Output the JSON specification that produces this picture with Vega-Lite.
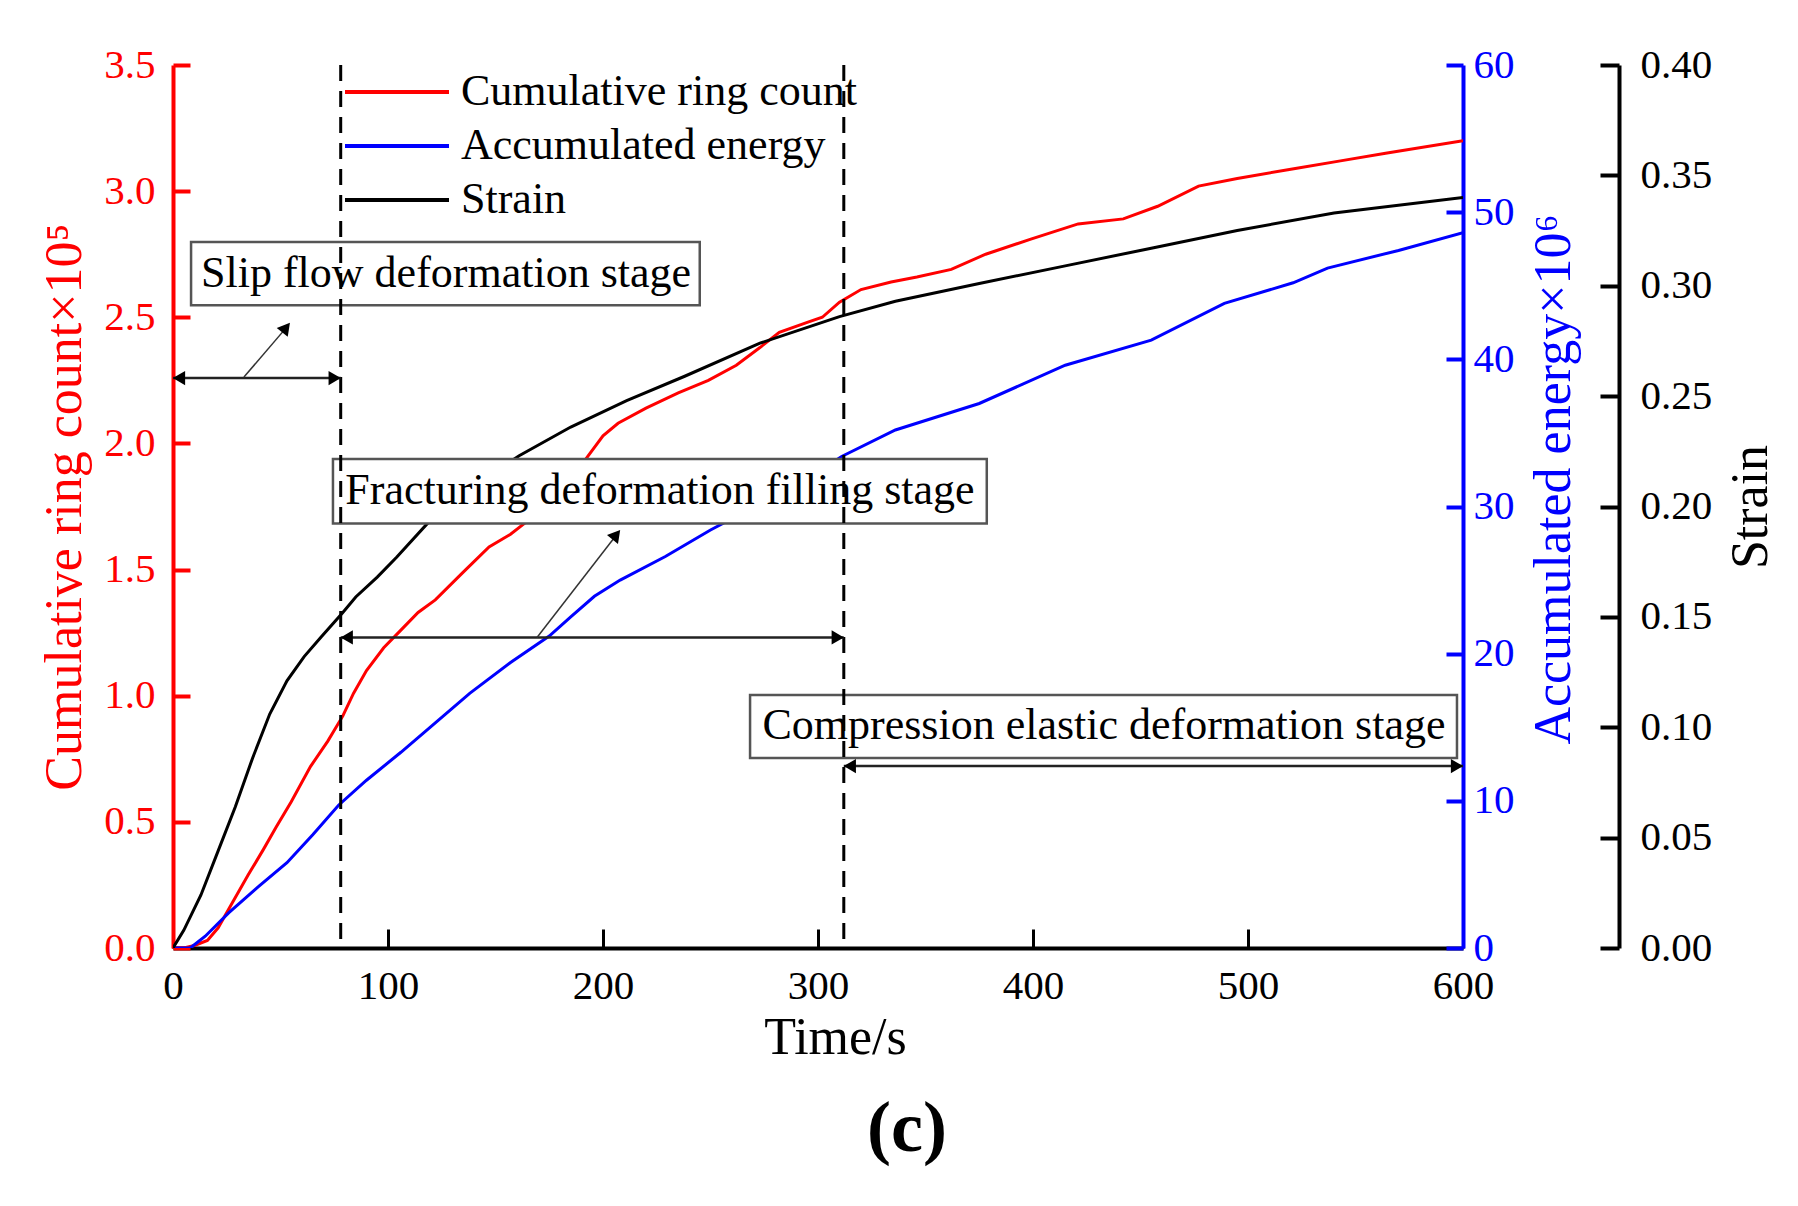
{
  "$schema": "https://vega.github.io/schema/vega-lite/v6.json",
  "width": 1290,
  "height": 883,
  "autosize": {"type": "none"},
  "padding": {"left": 173, "top": 65, "right": 335, "bottom": 258},
  "background": "white",
  "config": {
    "view": {"stroke": null},
    "font": "Liberation Serif",
    "axisX": {"grid": false, "domainColor": "black", "domainWidth": 4, "tickColor": "black", "tickWidth": 3, "tickSize": -19,
      "labelFont": "Liberation Serif", "labelFontSize": 41, "labelColor": "black", "labelPadding": 37, "labelFlush": false,
      "titleFont": "Liberation Serif", "titleFontSize": 52, "titleFontWeight": "normal", "titleColor": "black", "titlePadding": 6}
  },
  "title": {"text": "(c)", "orient": "bottom", "anchor": "middle", "font": "Liberation Serif", "fontSize": 72, "fontWeight": "bold", "color": "black", "offset": 31, "dx": 89},
  "datasets": {
    "curves": [
      {"s": "Cumulative ring count", "t": 0, "v": 0},
      {"s": "Cumulative ring count", "t": 5, "v": 0},
      {"s": "Cumulative ring count", "t": 10, "v": 0.01},
      {"s": "Cumulative ring count", "t": 16, "v": 0.03},
      {"s": "Cumulative ring count", "t": 21, "v": 0.08},
      {"s": "Cumulative ring count", "t": 27, "v": 0.17},
      {"s": "Cumulative ring count", "t": 35, "v": 0.29},
      {"s": "Cumulative ring count", "t": 42, "v": 0.39},
      {"s": "Cumulative ring count", "t": 48, "v": 0.48},
      {"s": "Cumulative ring count", "t": 55, "v": 0.58},
      {"s": "Cumulative ring count", "t": 64, "v": 0.72},
      {"s": "Cumulative ring count", "t": 72, "v": 0.82},
      {"s": "Cumulative ring count", "t": 79, "v": 0.92},
      {"s": "Cumulative ring count", "t": 84, "v": 1.01},
      {"s": "Cumulative ring count", "t": 90, "v": 1.10},
      {"s": "Cumulative ring count", "t": 98, "v": 1.19},
      {"s": "Cumulative ring count", "t": 106, "v": 1.26},
      {"s": "Cumulative ring count", "t": 114, "v": 1.33},
      {"s": "Cumulative ring count", "t": 122, "v": 1.38},
      {"s": "Cumulative ring count", "t": 135, "v": 1.49},
      {"s": "Cumulative ring count", "t": 147, "v": 1.59},
      {"s": "Cumulative ring count", "t": 157, "v": 1.64},
      {"s": "Cumulative ring count", "t": 166, "v": 1.70},
      {"s": "Cumulative ring count", "t": 178, "v": 1.78},
      {"s": "Cumulative ring count", "t": 187, "v": 1.88},
      {"s": "Cumulative ring count", "t": 193, "v": 1.95},
      {"s": "Cumulative ring count", "t": 200, "v": 2.03},
      {"s": "Cumulative ring count", "t": 207, "v": 2.08},
      {"s": "Cumulative ring count", "t": 220, "v": 2.14},
      {"s": "Cumulative ring count", "t": 235, "v": 2.20},
      {"s": "Cumulative ring count", "t": 249, "v": 2.25},
      {"s": "Cumulative ring count", "t": 262, "v": 2.31},
      {"s": "Cumulative ring count", "t": 273, "v": 2.38},
      {"s": "Cumulative ring count", "t": 282, "v": 2.44},
      {"s": "Cumulative ring count", "t": 295, "v": 2.48},
      {"s": "Cumulative ring count", "t": 302, "v": 2.50},
      {"s": "Cumulative ring count", "t": 310, "v": 2.56},
      {"s": "Cumulative ring count", "t": 320, "v": 2.61},
      {"s": "Cumulative ring count", "t": 334, "v": 2.64},
      {"s": "Cumulative ring count", "t": 346, "v": 2.66},
      {"s": "Cumulative ring count", "t": 362, "v": 2.69},
      {"s": "Cumulative ring count", "t": 378, "v": 2.75},
      {"s": "Cumulative ring count", "t": 399, "v": 2.81},
      {"s": "Cumulative ring count", "t": 421, "v": 2.87},
      {"s": "Cumulative ring count", "t": 442, "v": 2.89},
      {"s": "Cumulative ring count", "t": 458, "v": 2.94},
      {"s": "Cumulative ring count", "t": 477, "v": 3.02},
      {"s": "Cumulative ring count", "t": 495, "v": 3.05},
      {"s": "Cumulative ring count", "t": 522, "v": 3.09},
      {"s": "Cumulative ring count", "t": 543, "v": 3.12},
      {"s": "Cumulative ring count", "t": 564, "v": 3.15},
      {"s": "Cumulative ring count", "t": 600, "v": 3.20},
      {"s": "Accumulated energy", "t": 0, "v": 0},
      {"s": "Accumulated energy", "t": 8, "v": 0},
      {"s": "Accumulated energy", "t": 15, "v": 0.8},
      {"s": "Accumulated energy", "t": 26, "v": 2.4},
      {"s": "Accumulated energy", "t": 40, "v": 4.2},
      {"s": "Accumulated energy", "t": 53, "v": 5.8},
      {"s": "Accumulated energy", "t": 65, "v": 7.7},
      {"s": "Accumulated energy", "t": 77, "v": 9.7},
      {"s": "Accumulated energy", "t": 90, "v": 11.4},
      {"s": "Accumulated energy", "t": 106, "v": 13.3},
      {"s": "Accumulated energy", "t": 122, "v": 15.3},
      {"s": "Accumulated energy", "t": 138, "v": 17.3},
      {"s": "Accumulated energy", "t": 157, "v": 19.4},
      {"s": "Accumulated energy", "t": 175, "v": 21.2},
      {"s": "Accumulated energy", "t": 185, "v": 22.5},
      {"s": "Accumulated energy", "t": 196, "v": 23.9},
      {"s": "Accumulated energy", "t": 208, "v": 25.0},
      {"s": "Accumulated energy", "t": 229, "v": 26.6},
      {"s": "Accumulated energy", "t": 250, "v": 28.4},
      {"s": "Accumulated energy", "t": 272, "v": 30.1},
      {"s": "Accumulated energy", "t": 293, "v": 31.7},
      {"s": "Accumulated energy", "t": 311, "v": 33.4},
      {"s": "Accumulated energy", "t": 336, "v": 35.2},
      {"s": "Accumulated energy", "t": 375, "v": 37.0},
      {"s": "Accumulated energy", "t": 415, "v": 39.6},
      {"s": "Accumulated energy", "t": 455, "v": 41.3},
      {"s": "Accumulated energy", "t": 489, "v": 43.8},
      {"s": "Accumulated energy", "t": 521, "v": 45.2},
      {"s": "Accumulated energy", "t": 537, "v": 46.2},
      {"s": "Accumulated energy", "t": 570, "v": 47.4},
      {"s": "Accumulated energy", "t": 600, "v": 48.6},
      {"s": "Strain", "t": 0, "v": 0},
      {"s": "Strain", "t": 5, "v": 0.008},
      {"s": "Strain", "t": 13, "v": 0.024},
      {"s": "Strain", "t": 21, "v": 0.044},
      {"s": "Strain", "t": 29, "v": 0.064},
      {"s": "Strain", "t": 37, "v": 0.086},
      {"s": "Strain", "t": 45, "v": 0.106},
      {"s": "Strain", "t": 53, "v": 0.121},
      {"s": "Strain", "t": 61, "v": 0.132},
      {"s": "Strain", "t": 69, "v": 0.141},
      {"s": "Strain", "t": 79, "v": 0.152},
      {"s": "Strain", "t": 85, "v": 0.159},
      {"s": "Strain", "t": 95, "v": 0.168},
      {"s": "Strain", "t": 104, "v": 0.177},
      {"s": "Strain", "t": 119, "v": 0.193},
      {"s": "Strain", "t": 133, "v": 0.204},
      {"s": "Strain", "t": 147, "v": 0.214},
      {"s": "Strain", "t": 161, "v": 0.223},
      {"s": "Strain", "t": 185, "v": 0.236},
      {"s": "Strain", "t": 211, "v": 0.248},
      {"s": "Strain", "t": 238, "v": 0.259},
      {"s": "Strain", "t": 273, "v": 0.274},
      {"s": "Strain", "t": 310, "v": 0.286},
      {"s": "Strain", "t": 336, "v": 0.293},
      {"s": "Strain", "t": 375, "v": 0.301},
      {"s": "Strain", "t": 415, "v": 0.309},
      {"s": "Strain", "t": 455, "v": 0.317},
      {"s": "Strain", "t": 495, "v": 0.325},
      {"s": "Strain", "t": 540, "v": 0.333},
      {"s": "Strain", "t": 600, "v": 0.340}
    ],
    "stages": [{"t": 78}, {"t": 312}],
    "boxes": [
      {"t1": 8.4, "t2": 245, "v1": 2.548, "v2": 2.798, "label": "Slip flow deformation stage", "tc": 127, "vc": 2.673},
      {"t1": 74.4, "t2": 378.5, "v1": 1.683, "v2": 1.938, "label": "Fracturing deformation filling stage", "tc": 226.5, "vc": 1.81},
      {"t1": 268.4, "t2": 597.2, "v1": 0.753, "v2": 1.003, "label": "Compression elastic deformation stage", "tc": 433, "vc": 0.878}
    ],
    "arrows": [
      {"kind": "h", "t1": 0, "v1": 2.259, "t2": 78, "v2": 2.259},
      {"kind": "h", "t1": 78, "v1": 1.231, "t2": 312, "v2": 1.231},
      {"kind": "h", "t1": 312, "v1": 0.721, "t2": 600, "v2": 0.721},
      {"kind": "d", "t1": 33, "v1": 2.263, "t2": 53, "v2": 2.462},
      {"kind": "d", "t1": 169.3, "v1": 1.231, "t2": 206.5, "v2": 1.64}
    ],
    "heads": [
      {"kind": "L", "t": 2.8, "v": 2.259},
      {"kind": "R", "t": 75.2, "v": 2.259},
      {"kind": "L", "t": 80.8, "v": 1.231},
      {"kind": "R", "t": 309.2, "v": 1.231},
      {"kind": "L", "t": 314.8, "v": 0.721},
      {"kind": "R", "t": 597.2, "v": 0.721},
      {"kind": "D", "t": 52.6, "v": 2.459},
      {"kind": "D", "t": 206.2, "v": 1.638}
    ]
  },
  "resolve": {"scale": {"y": "independent"}},
  "layer": [
    {
      "data": {"name": "curves"},
      "transform": [{"filter": "datum.s === 'Cumulative ring count'"}],
      "mark": {"type": "line", "strokeWidth": 3, "clip": true},
      "encoding": {
        "x": {"field": "t", "type": "quantitative", "scale": {"domain": [0, 600], "nice": false},
          "axis": {"title": "Time/s", "values": [0, 100, 200, 300, 400, 500, 600], "titleX": 662}},
        "y": {"field": "v", "type": "quantitative", "scale": {"domain": [0, 3.5], "nice": false},
          "axis": {"orient": "left", "title": "Cumulative ring count×10⁵", "values": [0, 0.5, 1, 1.5, 2, 2.5, 3, 3.5], "format": ".1f", "grid": false,
            "domainColor": "#ff0000", "domainWidth": 4, "tickColor": "#ff0000", "tickWidth": 4, "tickSize": -17,
            "labelFont": "Liberation Serif", "labelFontSize": 41, "labelColor": "#ff0000", "labelPadding": 35, "labelFlush": false,
            "titleFont": "Liberation Serif", "titleFontSize": 52, "titleFontWeight": "normal", "titleColor": "#ff0000", "titlePadding": 12}},
        "color": {"field": "s", "type": "nominal",
          "scale": {"domain": ["Cumulative ring count", "Accumulated energy", "Strain"], "range": ["#ff0000", "#0000ff", "#000000"]},
          "legend": {"title": null, "orient": "none", "legendX": 170, "legendY": -1, "padding": 0,
            "symbolType": "M-1,0H3", "symbolSize": 2704, "symbolStrokeWidth": 4,
            "labelFont": "Liberation Serif", "labelFontSize": 44, "labelColor": "black", "labelOffset": 62, "rowPadding": 4, "labelLimit": 600}}
      }
    },
    {
      "data": {"name": "curves"},
      "transform": [{"filter": "datum.s === 'Accumulated energy'"}],
      "mark": {"type": "line", "strokeWidth": 3, "clip": true},
      "encoding": {
        "x": {"field": "t", "type": "quantitative", "scale": {"domain": [0, 600], "nice": false}},
        "y": {"field": "v", "type": "quantitative", "scale": {"domain": [0, 60], "nice": false},
          "axis": {"orient": "right", "title": "Accumulated energy×10⁶", "values": [0, 10, 20, 30, 40, 50, 60], "grid": false,
            "domainColor": "#0000ff", "domainWidth": 4, "tickColor": "#0000ff", "tickWidth": 4, "tickSize": -17,
            "labelFont": "Liberation Serif", "labelFontSize": 41, "labelColor": "#0000ff", "labelPadding": 27, "labelFlush": false,
            "titleFont": "Liberation Serif", "titleFontSize": 52, "titleFontWeight": "normal", "titleColor": "#0000ff", "titlePadding": 14, "titleAngle": 270, "titleBaseline": "top", "titleY": 414}},
        "color": {"field": "s", "type": "nominal"}
      }
    },
    {
      "data": {"name": "curves"},
      "transform": [{"filter": "datum.s === 'Strain'"}],
      "mark": {"type": "line", "strokeWidth": 3, "clip": true},
      "encoding": {
        "x": {"field": "t", "type": "quantitative", "scale": {"domain": [0, 600], "nice": false}},
        "y": {"field": "v", "type": "quantitative", "scale": {"domain": [0, 0.4], "nice": false},
          "axis": {"orient": "right", "offset": 156, "title": "Strain", "values": [0, 0.05, 0.1, 0.15, 0.2, 0.25, 0.3, 0.35, 0.4], "format": ".2f", "grid": false,
            "domainColor": "black", "domainWidth": 4, "tickColor": "black", "tickWidth": 4, "tickSize": -19,
            "labelFont": "Liberation Serif", "labelFontSize": 41, "labelColor": "black", "labelPadding": 40, "labelFlush": false,
            "titleFont": "Liberation Serif", "titleFontSize": 52, "titleFontWeight": "normal", "titleColor": "black", "titlePadding": 14, "titleAngle": 270, "titleBaseline": "top"}},
        "color": {"field": "s", "type": "nominal"}
      }
    },
    {
      "data": {"name": "boxes"},
      "mark": {"type": "rect", "fill": "white", "stroke": "#555555", "strokeWidth": 2.5},
      "encoding": {
        "x": {"field": "t1", "type": "quantitative", "scale": {"domain": [0, 600], "nice": false}},
        "x2": {"field": "t2"},
        "y": {"field": "v1", "type": "quantitative", "scale": {"domain": [0, 3.5], "nice": false}, "axis": null},
        "y2": {"field": "v2"}
      }
    },
    {
      "data": {"name": "boxes"},
      "mark": {"type": "text", "font": "Liberation Serif", "fontSize": 44, "color": "black", "align": "center", "baseline": "middle"},
      "encoding": {
        "x": {"field": "tc", "type": "quantitative", "scale": {"domain": [0, 600], "nice": false}},
        "y": {"field": "vc", "type": "quantitative", "scale": {"domain": [0, 3.5], "nice": false}, "axis": null},
        "text": {"field": "label"}
      }
    },
    {
      "data": {"name": "stages"},
      "mark": {"type": "rule", "color": "black", "strokeWidth": 3, "strokeDash": [16, 10]},
      "encoding": {"x": {"field": "t", "type": "quantitative", "scale": {"domain": [0, 600], "nice": false}}}
    },
    {
      "data": {"name": "arrows"},
      "transform": [{"filter": "datum.kind === 'h'"}],
      "mark": {"type": "rule", "color": "#222222", "strokeWidth": 2.5},
      "encoding": {
        "x": {"field": "t1", "type": "quantitative", "scale": {"domain": [0, 600], "nice": false}},
        "x2": {"field": "t2"},
        "y": {"field": "v1", "type": "quantitative", "scale": {"domain": [0, 3.5], "nice": false}, "axis": null},
        "y2": {"field": "v2"}
      }
    },
    {
      "data": {"name": "arrows"},
      "transform": [{"filter": "datum.kind === 'd'"}],
      "mark": {"type": "rule", "color": "#333333", "strokeWidth": 1.5},
      "encoding": {
        "x": {"field": "t1", "type": "quantitative", "scale": {"domain": [0, 600], "nice": false}},
        "x2": {"field": "t2"},
        "y": {"field": "v1", "type": "quantitative", "scale": {"domain": [0, 3.5], "nice": false}, "axis": null},
        "y2": {"field": "v2"}
      }
    },
    {
      "data": {"name": "heads"},
      "transform": [{"filter": "datum.kind === 'L'"}],
      "mark": {"type": "point", "shape": "triangle-left", "filled": true, "color": "black", "size": 200, "opacity": 1},
      "encoding": {
        "x": {"field": "t", "type": "quantitative", "scale": {"domain": [0, 600], "nice": false}},
        "y": {"field": "v", "type": "quantitative", "scale": {"domain": [0, 3.5], "nice": false}, "axis": null}
      }
    },
    {
      "data": {"name": "heads"},
      "transform": [{"filter": "datum.kind === 'R'"}],
      "mark": {"type": "point", "shape": "triangle-right", "filled": true, "color": "black", "size": 200, "opacity": 1},
      "encoding": {
        "x": {"field": "t", "type": "quantitative", "scale": {"domain": [0, 600], "nice": false}},
        "y": {"field": "v", "type": "quantitative", "scale": {"domain": [0, 3.5], "nice": false}, "axis": null}
      }
    },
    {
      "data": {"name": "heads"},
      "transform": [{"filter": "datum.kind === 'D'"}],
      "mark": {"type": "point", "shape": "triangle-right", "angle": 309, "filled": true, "color": "black", "size": 200, "opacity": 1},
      "encoding": {
        "x": {"field": "t", "type": "quantitative", "scale": {"domain": [0, 600], "nice": false}},
        "y": {"field": "v", "type": "quantitative", "scale": {"domain": [0, 3.5], "nice": false}, "axis": null}
      }
    }
  ]
}
